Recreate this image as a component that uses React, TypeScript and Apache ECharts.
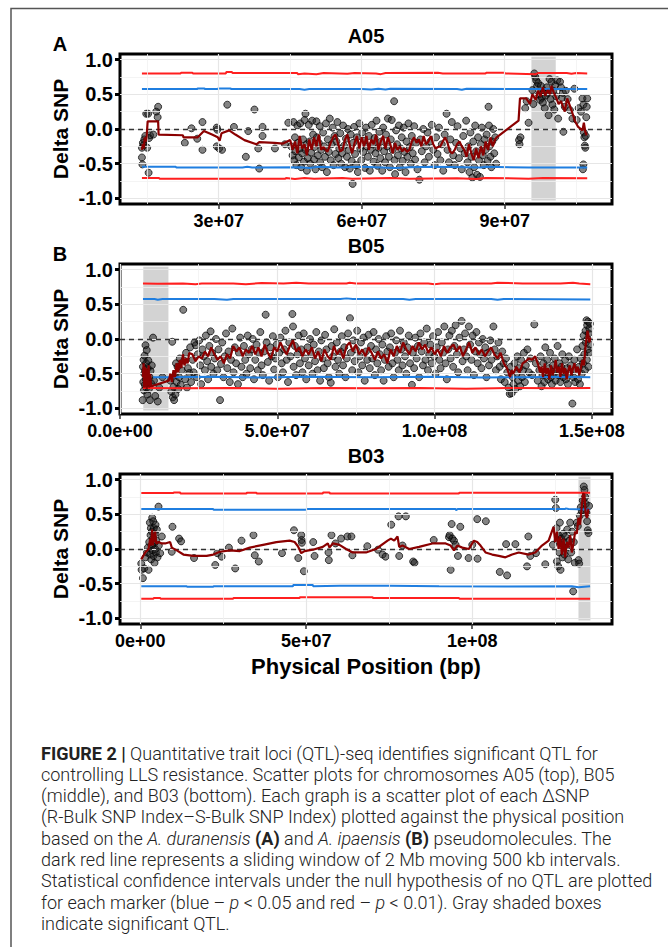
import React, { useEffect, useRef } from "react";
import * as echarts from "echarts";

// ---------- DATA (positions in Mb, values = delta SNP index) ----------
const A_POINTS: number[][] = [
  [13.9,-0.27],[13.9,-0.41],[14.0,-0.51],[14.1,-0.20],[14.3,-0.23],[14.4,-0.15],[14.6,-0.10],[14.8,0.22],[15.0,-0.27],[15.2,0.22],[15.3,-0.63],[15.4,-0.13],[15.6,-0.09],[16.3,-0.08],[16.9,0.25],[17.3,0.32],[17.2,0.17],
  [22.9,-0.20],[24.3,0.01],[25.5,-0.14],[26.6,0.10],[26.6,-0.30],[29.6,0.02],[29.7,-0.01],[29.6,-0.25],[30.1,-0.28],[30.7,-0.30],[31.8,0.35],[33.2,0.03],[35.7,-0.40],[36.2,-0.03],[37.5,0.28],[38.3,-0.28],[38.5,-0.57],[39.2,0.03],[39.2,-0.10],[41.8,-0.28],[43.9,-0.22],[44.6,0.09],[45.7,0.10],[48.2,0.22],
  [45.2,-0.25],[45.5,-0.38],[45.8,-0.45],[46.0,-0.12],[46.1,-0.32],[46.3,-0.52],[46.5,0.05],[46.6,-0.20],[46.8,-0.41],[47.0,-0.28],[47.1,0.08],[47.3,-0.55],[47.5,-0.35],[47.7,-0.15],[47.9,-0.47],
  [48.0,0.13],[48.2,-0.30],[48.4,-0.22],[48.5,-0.60],[48.7,-0.42],[48.9,0.06],[49.1,-0.18],[49.2,-0.50],[49.4,-0.34],[49.6,0.12],[49.8,-0.08],[50.0,-0.44],[50.1,-0.26],[50.3,-0.58],
  [50.5,0.11],[50.6,-0.12],[50.8,-0.38],[51.0,-0.20],[51.2,0.04],[51.3,-0.48],[51.5,-0.30],[51.7,-0.55],[51.9,-0.05],[52.1,-0.25],[52.3,-0.40],[52.5,0.08],[52.7,-0.62],[52.9,-0.15],
  [53.1,-0.33],[53.3,0.15],[53.5,-0.45],[53.7,-0.22],[53.9,0.02],[54.1,-0.52],[54.3,-0.10],[54.5,-0.36],[54.7,-0.18],[54.9,0.10],[55.1,-0.42],[55.3,-0.28],[55.5,-0.06],[55.7,-0.50],[55.9,-0.35],
  [56.1,0.05],[56.3,-0.24],[56.5,-0.55],[56.7,-0.14],[56.9,-0.40],[57.1,0.00],[57.3,-0.30],[57.5,-0.57],[57.7,-0.08],[57.9,-0.46],[58.1,-0.79],[58.2,-0.20],[58.4,0.03],[58.6,-0.36],[58.8,-0.52],[59.0,-0.12],[59.2,-0.62],
  [59.5,0.08],[59.7,-0.28],[59.9,-0.45],[60.1,-0.05],[60.3,-0.33],[60.5,-0.17],[60.7,-0.56],[60.9,0.02],[61.1,-0.25],[61.3,-0.40],[61.5,-0.10],[61.7,-0.60],[61.9,-0.30],
  [62.1,0.06],[62.3,-0.22],[62.5,-0.47],[62.7,-0.13],[62.9,-0.35],[63.1,0.12],[63.3,-0.53],[63.5,-0.27],[63.7,-0.04],[63.9,-0.42],[64.1,-0.18],[64.3,-0.60],[64.5,0.02],[64.7,-0.32],[64.9,-0.48],[65.1,-0.08],[65.3,-0.25],[65.5,0.15],[65.7,-0.40],[65.9,-0.55],
  [66.1,-0.15],[66.3,0.13],[66.5,-0.30],[66.8,0.40],[66.9,-0.45],[67.0,-0.65],[67.2,-0.02],[67.4,-0.22],[67.6,-0.38],[67.8,0.05],[68.0,-0.55],[68.2,-0.28],[68.4,-0.12],[68.6,-0.46],[68.8,0.02],[69.0,-0.33],[69.2,-0.62],[69.4,-0.18],[69.6,-0.40],[69.8,0.08],
  [70.1,-0.26],[70.3,-0.50],[70.5,-0.10],[70.7,-0.35],[71.0,0.04],[71.2,-0.44],[71.4,-0.20],[71.7,-0.58],[72.1,-0.73],[72.3,-0.15],[72.6,-0.32],[72.9,0.00],[73.2,-0.48],[73.5,-0.25],[73.8,-0.05],
  [74.1,-0.40],[74.4,-0.18],[74.7,0.06],[75.0,-0.30],[75.3,-0.52],[75.6,-0.12],[75.9,-0.36],[76.2,0.02],[76.5,-0.45],[76.8,-0.22],[77.1,-0.60],[77.4,-0.08],[77.8,0.22],[78.0,-0.30],[78.3,-0.48],
  [78.6,-0.15],[78.9,0.10],[79.2,-0.38],[79.5,-0.52],[79.8,-0.20],[80.1,0.04],[80.4,-0.42],[80.7,-0.28],[81.0,-0.58],[81.3,-0.10],[81.6,-0.35],[81.9,0.12],[82.2,-0.48],
  [82.4,-0.25],[82.6,-0.62],[82.8,-0.05],[83.0,-0.40],[83.2,-0.70],[83.4,-0.18],[83.6,-0.55],[83.8,0.05],[84.0,-0.32],[84.2,-0.66],[84.4,-0.12],[84.6,-0.45],[84.8,-0.69],[85.0,-0.22],[85.2,0.02],[85.4,-0.38],[85.6,-0.52],
  [85.8,-0.15],[86.0,-0.30],[86.2,-0.08],[86.4,-0.46],[86.6,0.32],[86.7,0.05],[86.8,-0.25],[87.0,-0.40],[87.2,-0.55],[87.4,-0.18],[87.6,0.00],[87.8,-0.35],[88.0,-0.12],[88.2,-0.50],
  [93.0,-0.16],[93.1,-0.22],[93.3,-0.12],[95.0,0.09],[94.3,0.30],[94.6,0.40],
  [95.8,0.56],[96.0,0.36],[96.2,0.80],[96.4,0.75],[96.6,0.70],[96.8,0.62],[97.0,0.66],[97.2,0.50],[97.4,0.42],[97.6,0.62],[97.8,0.45],[98.0,0.38],[98.2,0.55],[98.4,0.30],[98.6,0.48],[98.8,0.60],[99.0,0.52],[99.2,0.20],[99.4,0.72],[99.6,0.43],[99.8,0.68],[100.0,0.35],[100.2,0.55],[100.4,0.28],[100.6,0.63],[100.8,0.47],[101.0,0.70],[101.2,0.15],
  [101.6,0.68],[101.8,0.60],[102.0,0.45],[102.2,0.52],[102.3,-0.04],[102.6,0.32],[102.8,0.55],[103.2,0.43],[103.7,0.27],[104.2,0.15],[104.6,0.58],[105.1,0.13],[105.5,0.30],[106.0,0.25],[106.3,0.44],[106.5,0.35],[106.6,-0.05],[106.7,-0.12],[106.8,-0.24],[106.5,-0.51],[106.4,-0.58],[106.9,-0.27],[107.1,0.17],[107.2,0.32],[107.3,0.44],[107.0,-0.10]
];
const A_WINDOW: number[][] = [
  [13.9,-0.30],[14.1,-0.22],[14.3,-0.28],[14.5,-0.12],[14.7,-0.18],[14.9,-0.10],[15.1,0.11],[17.3,0.11],[17.4,-0.08],[22.5,-0.09],[22.6,-0.12],[25.6,-0.12],[26.9,-0.03],[28.6,-0.08],[29.8,-0.12],[30.2,-0.17],[30.6,-0.06],[32.2,-0.02],[33.5,-0.08],[35.4,-0.16],[37.9,-0.22],[38.5,-0.19],[41.7,-0.20],[43.5,-0.21],[45.0,-0.16],[45.5,-0.30],[46.0,-0.18],[46.5,-0.35],[47.0,-0.10],[47.5,-0.28],[48.0,-0.22],[48.5,-0.38],[49.0,-0.15],[49.5,-0.30],[50.0,-0.12],[50.5,-0.25],[51.0,-0.08],[51.5,-0.30],[52.0,-0.26],[52.8,-0.33],[53.5,-0.20],[54.0,-0.12],[54.5,-0.08],[55.0,-0.20],[55.5,-0.32],[56.0,-0.30],[56.5,-0.15],[57.0,-0.08],[57.5,-0.24],[58.0,-0.35],[58.5,-0.20],[59.0,-0.10],[59.5,-0.28],[60.0,-0.12],[60.5,-0.25],[61.0,-0.10],[61.5,-0.30],[62.0,-0.15],[62.5,-0.22],[63.0,-0.08],[63.5,-0.30],[64.0,-0.18],[64.5,-0.10],[65.0,-0.28],[65.5,-0.12],[66.0,-0.22],[66.5,-0.35],[67.0,-0.20],[67.5,-0.30],[68.0,-0.25],[68.5,-0.32],[69.0,-0.28],[69.5,-0.33],[70.0,-0.30],[70.5,-0.18],[71.0,-0.12],[71.5,-0.20],[72.0,-0.15],[72.5,-0.25],[73.0,-0.10],[73.5,-0.22],[74.0,-0.18],[74.5,-0.10],[75.0,-0.22],[75.5,-0.28],[76.0,-0.26],[76.5,-0.25],[77.0,-0.18],[77.5,-0.12],[78.0,-0.20],[78.5,-0.32],[79.0,-0.35],[79.5,-0.30],[80.0,-0.22],[80.5,-0.18],[81.0,-0.25],[81.5,-0.30],[82.0,-0.40],[82.5,-0.22],[83.0,-0.35],[83.5,-0.45],[84.0,-0.28],[84.5,-0.42],[85.0,-0.25],[85.5,-0.38],[86.0,-0.18],[86.5,-0.30],[87.0,-0.12],[87.5,-0.25],[88.0,-0.15],[88.3,-0.12],
  [92.9,0.12],[93.2,0.44],[94.5,0.44],[95.3,0.36],[95.8,0.50],[96.5,0.42],[97.0,0.55],[97.5,0.47],[98.0,0.60],[98.5,0.48],[99.0,0.56],[99.5,0.50],[99.8,0.62],[100.3,0.52],[100.8,0.45],[101.3,0.36],[101.8,0.40],[102.6,0.25],[103.1,0.44],[104.0,0.27],[104.7,0.12],[105.4,0.03],[106.3,-0.02],[106.6,0.09],[106.9,-0.04],[107.2,-0.09]
];
const A_RED_UP: number[][] = [[13.9,0.80],[22.0,0.80],[22.1,0.81],[24.5,0.81],[24.6,0.80],[31.5,0.80],[31.6,0.82],[32.8,0.82],[32.9,0.805],[46.5,0.805],[46.6,0.79],[48.0,0.80],[50.5,0.79],[52.0,0.805],[57.0,0.795],[58.5,0.805],[63.0,0.80],[64.0,0.79],[65.0,0.805],[76.0,0.81],[77.0,0.80],[86.0,0.80],[86.1,0.81],[90.0,0.81],[90.1,0.80],[96.5,0.79],[97.0,0.805],[103.0,0.805],[104.0,0.795],[105.0,0.805],[107.3,0.80]];
const A_BLUE_UP: number[][] = [[13.9,0.575],[25.5,0.575],[25.6,0.585],[27.0,0.585],[27.1,0.575],[29.8,0.575],[29.9,0.585],[32.5,0.585],[32.6,0.575],[47.0,0.575],[48.0,0.565],[49.0,0.575],[60.0,0.575],[62.0,0.57],[63.5,0.58],[65.0,0.57],[66.0,0.58],[80.0,0.575],[81.0,0.565],[82.0,0.58],[96.0,0.575],[107.3,0.575]];
const A_BLUE_LO: number[][] = [[13.9,-0.545],[21.0,-0.545],[21.1,-0.555],[35.0,-0.555],[36.0,-0.545],[37.0,-0.555],[47.0,-0.55],[49.0,-0.56],[51.0,-0.545],[55.0,-0.555],[60.0,-0.545],[67.0,-0.56],[70.0,-0.55],[75.0,-0.545],[85.0,-0.555],[86.0,-0.545],[95.0,-0.555],[107.3,-0.555]];
const A_RED_LO: number[][] = [[13.9,-0.705],[17.5,-0.705],[17.6,-0.715],[44.0,-0.715],[44.1,-0.705],[46.0,-0.72],[48.0,-0.705],[50.0,-0.715],[56.0,-0.705],[58.0,-0.715],[66.0,-0.705],[70.0,-0.715],[80.0,-0.71],[84.0,-0.72],[86.0,-0.705],[95.0,-0.715],[98.0,-0.705],[107.3,-0.71]];
const A_QTL: number[] = [95.6, 100.7];

const B_POINTS: number[][] = [
  [7.2,-0.88],[7.3,-0.40],[7.4,-0.62],[7.5,-0.30],[7.6,-0.74],[7.7,-0.50],[7.8,-0.24],[7.9,-0.66],[8.0,-0.45],[8.1,-0.09],[8.2,-0.58],[8.3,-0.35],[8.4,-0.70],[8.5,-0.16],[8.6,-0.52],[8.7,-0.80],[8.8,-0.42],[8.9,-0.62],[9.0,-0.31],[9.2,-0.72],[9.4,-0.55],[9.5,-0.88],[9.7,-0.46],[9.9,-0.64],[10.1,-0.38],[10.5,0.02],[10.8,-0.60],[11.2,-0.82],[12.0,-0.90],[12.5,-0.70],[13.5,-0.55],
  [16.0,-0.60],[16.3,-0.76],[16.6,-0.04],[16.8,-0.84],[17.0,-0.69],[17.2,-0.88],[17.4,-0.52],[17.6,-0.80],[17.8,-0.35],[18.0,-0.62],[18.3,-0.40],[18.5,-0.72],[18.8,-0.55],[19.0,-0.28],[19.3,-0.66],[19.6,-0.45],[20.1,0.42],[20.4,-0.31],[20.7,-0.58],[21.0,-0.20],[21.3,-0.70],[21.6,-0.42],[22.0,-0.49],
  [22.3,-0.12],[22.6,-0.62],[23.1,-0.30],[23.4,-0.48],[23.7,-0.05],[24.1,-0.09],[24.4,-0.55],[24.7,-0.22],[25.2,-0.02],[25.5,-0.38],[25.8,-0.65],[26.2,-0.15],[26.6,-0.25],[27.0,-0.45],[27.3,0.05],[27.7,-0.32],[28.0,-0.58],[28.4,-0.10],[28.8,0.11],[29.0,-0.40],[29.3,-0.20],[29.7,-0.50],
  [30.1,-0.28],[30.5,0.00],[30.9,-0.45],[31.3,-0.15],[31.8,-0.88],[32.1,-0.36],[32.5,-0.05],[32.9,-0.55],[33.3,-0.25],[33.7,0.08],[34.1,-0.42],[34.5,-0.18],[34.9,-0.62],[35.3,-0.30],[35.7,0.15],[36.1,-0.48],[36.5,-0.12],[36.9,-0.35],[37.5,-0.65],[37.8,-0.20],[38.2,0.02],[38.6,-0.40],[39.0,-0.55],[39.4,-0.10],[39.8,-0.30],
  [40.2,-0.50],[40.6,0.05],[41.0,-0.22],[41.4,-0.42],[41.8,-0.15],[42.2,0.00],[42.6,-0.58],[43.0,-0.30],[43.4,-0.08],[43.8,-0.45],[44.2,-0.20],[44.6,0.10],[45.0,-0.38],[45.4,-0.52],[45.8,-0.18],[46.3,0.35],[46.6,-0.05],[47.0,-0.33],[47.4,-0.60],[47.8,-0.12],[48.2,-0.25],[48.6,0.04],[49.0,-0.44],[49.4,-0.28],[49.8,-0.08],
  [50.2,-0.55],[50.6,-0.20],[51.0,0.02],[51.4,-0.35],[51.8,-0.48],[52.2,-0.15],[52.6,0.12],[53.0,-0.30],[53.4,-0.62],[53.8,-0.05],[54.2,-0.25],[54.8,0.36],[55.0,0.18],[55.2,-0.40],[55.6,-0.10],[56.0,-0.52],[56.4,-0.22],[56.8,0.05],[57.2,-0.35],[57.6,-0.15],[58.0,-0.48],[58.4,0.08],[58.8,-0.28],[59.2,-0.58],[59.6,-0.12],
  [60.0,-0.38],[60.4,0.00],[60.8,-0.22],[61.2,-0.50],[61.6,-0.08],[62.0,-0.32],[62.4,0.10],[62.8,-0.45],[63.2,-0.18],[63.6,-0.60],[64.0,-0.02],[64.4,-0.28],[64.8,-0.42],[65.2,0.06],[65.6,-0.15],[66.0,-0.35],[66.4,-0.55],[67.0,-0.63],[67.3,-0.10],[67.7,-0.25],[68.1,0.14],[68.5,-0.40],[68.9,-0.05],[69.3,-0.30],[69.7,-0.50],
  [70.1,-0.18],[70.5,0.04],[70.9,-0.38],[71.3,-0.12],[71.7,-0.55],[72.1,-0.28],[72.5,0.08],[73.1,0.30],[73.4,-0.20],[73.8,-0.45],[74.2,-0.02],[74.6,-0.32],[75.0,-0.15],[75.4,0.12],[75.8,-0.48],[76.2,-0.25],[76.6,-0.05],[77.0,-0.38],[77.4,0.02],[77.8,-0.60],[78.2,-0.18],[78.6,-0.30],[79.0,0.06],[79.4,-0.42],[79.8,-0.10],
  [80.2,-0.28],[80.6,0.10],[81.0,-0.52],[81.4,-0.15],[81.8,-0.35],[82.2,0.00],[82.6,-0.22],[83.0,-0.45],[83.4,-0.08],[83.8,-0.60],[84.2,-0.30],[84.6,0.04],[85.0,-0.18],[85.4,-0.40],[85.8,-0.12],[86.2,0.08],[86.6,-0.35],[87.0,-0.55],[87.4,-0.20],[87.8,-0.02],[88.2,-0.30],[88.6,-0.45],[89.0,0.12],[89.4,-0.15],[89.8,-0.38],
  [90.2,-0.05],[90.6,-0.25],[91.0,-0.50],[91.4,-0.12],[91.8,0.05],[92.2,-0.35],[92.8,-0.66],[93.1,-0.20],[93.5,-0.42],[93.9,0.02],[94.3,-0.28],[94.7,-0.10],[95.1,-0.55],[95.5,0.08],[95.9,-0.18],[96.3,-0.38],[96.7,-0.05],[97.1,-0.30],[97.5,0.15],[97.9,-0.45],[98.3,-0.22],[98.7,-0.08],[99.1,-0.35],[99.5,0.04],[99.9,-0.25],
  [100.3,-0.50],[100.7,-0.12],[101.1,0.10],[101.5,-0.30],[101.9,-0.42],[102.3,-0.05],[102.7,-0.20],[103.1,0.18],[103.5,-0.35],[103.9,-0.58],[104.3,-0.15],[104.7,0.05],[105.1,-0.28],[105.5,0.12],[105.9,-0.40],[106.3,-0.10],[106.7,0.20],[107.1,-0.22],[107.5,-0.48],[107.9,0.02],[108.6,0.26],[108.9,-0.32],[109.3,-0.15],[109.7,0.08],
  [110.1,-0.25],[110.5,-0.45],[110.9,0.18],[111.3,-0.08],[111.7,-0.30],[112.1,0.05],[112.5,-0.52],[112.9,-0.18],[113.3,0.10],[113.7,-0.35],[114.1,-0.05],[114.5,-0.22],[114.9,-0.42],[115.3,0.00],[115.7,-0.28],[116.1,-0.12],[116.5,-0.55],[116.9,-0.20],[117.3,-0.38],[117.7,-0.02],[118.1,-0.30],[118.7,0.18],[119.1,-0.15],[119.5,-0.45],
  [119.9,-0.25],[120.3,-0.05],[120.7,-0.40],[121.1,-0.58],[121.5,-0.18],[121.9,-0.35],[122.3,-0.62],[122.7,-0.28],[123.1,-0.48],[123.5,-0.70],[123.9,-0.79],[124.5,-0.78],[124.2,-0.40],[124.8,-0.55],
  [125.1,-0.65],[125.4,-0.35],[125.7,-0.72],[126.0,-0.50],[126.3,-0.25],[126.6,-0.60],[126.9,-0.42],[127.2,-0.68],[127.5,-0.30],[127.8,-0.55],[128.1,-0.45],[128.4,-0.20],[128.7,-0.62],[129.0,-0.38],[129.5,-0.15],[130.0,-0.48],[130.5,-0.28],[131.0,-0.52],[131.7,0.21],[132.2,-0.35],[132.8,-0.60],
  [133.3,-0.45],[133.7,-0.25],[134.0,-0.68],[134.3,-0.52],[134.6,-0.35],[134.9,-0.62],[135.2,-0.12],[135.5,-0.48],[135.8,-0.30],[136.1,-0.58],[136.4,-0.42],[136.7,-0.20],[137.0,-0.55],[137.3,-0.65],[137.6,-0.38],[137.9,-0.50],[138.2,-0.28],[138.5,-0.60],[138.8,-0.45],[139.1,-0.10],[139.4,-0.52],[139.7,-0.35],[140.0,-0.62],[140.3,-0.40],[140.6,-0.22],[140.9,-0.55],[141.2,-0.48],[141.5,-0.30],[141.8,-0.58],[142.1,-0.42],[142.4,-0.65],[142.7,-0.25],[143.0,-0.50],[143.3,-0.38],[143.8,-0.93],[144.1,-0.55],[144.4,-0.30],[144.7,-0.62],[145.0,-0.45],[145.3,-0.15],[145.6,-0.58],[145.9,-0.40],[146.2,-0.65],[146.5,-0.28],
  [146.8,-0.50],[147.0,-0.10],[147.2,-0.35],[147.4,0.05],[147.6,-0.22],[147.8,-0.45],[148.0,0.12],[148.1,-0.05],[148.3,0.27],[148.4,-0.30],[148.5,0.20],[148.6,0.00],[148.7,-0.15],[148.8,0.25],[148.9,-0.40],[149.0,0.08],[149.1,-0.20],[149.2,0.15],[149.3,-0.08],[149.4,0.22]
];
const B_WINDOW: number[][] = [
  [7.3,-0.55],[7.5,-0.35],[7.7,-0.70],[7.9,-0.40],[8.1,-0.68],[8.3,-0.42],[8.5,-0.72],[8.7,-0.45],[8.9,-0.66],[9.1,-0.38],[9.3,-0.70],[9.6,-0.50],[9.8,-0.65],[10.0,-0.68],[15.5,-0.60],[16.0,-0.50],[16.5,-0.62],[17.0,-0.45],[17.5,-0.55],[18.0,-0.35],[18.5,-0.48],[19.0,-0.30],[19.5,-0.42],[20.0,-0.22],[20.5,-0.38],[21.0,-0.28],[21.5,-0.35],[22.0,-0.20],[23.0,-0.22],[24.0,-0.32],[25.0,-0.25],[26.0,-0.28],[27.0,-0.18],[28.0,-0.25],[29.0,-0.12],[30.0,-0.22],[31.0,-0.30],[32.0,-0.25],[33.0,-0.35],[34.0,-0.22],[35.0,-0.28],[36.0,-0.10],[37.0,-0.18],[38.0,-0.12],[39.0,-0.25],[40.0,-0.15],[41.0,-0.20],[42.0,-0.10],[43.0,-0.22],[44.0,-0.12],[45.0,-0.25],[46.0,-0.08],[47.0,-0.20],[48.0,-0.28],[49.0,-0.12],[50.0,-0.18],[51.0,-0.05],[52.0,-0.15],[53.0,-0.22],[54.0,-0.10],[55.0,-0.02],[56.0,-0.18],[57.0,-0.12],[58.0,-0.25],[59.0,-0.15],[60.0,-0.22],[61.0,-0.12],[62.0,-0.28],[63.0,-0.18],[64.0,-0.32],[65.0,-0.15],[66.0,-0.25],[67.0,-0.30],[68.0,-0.10],[69.0,-0.22],[70.0,-0.15],[71.0,-0.28],[72.0,-0.10],[73.0,-0.05],[74.0,-0.18],[75.0,-0.08],[76.0,-0.22],[77.0,-0.15],[78.0,-0.25],[79.0,-0.12],[80.0,-0.20],[81.0,-0.30],[82.0,-0.18],[83.0,-0.28],[84.0,-0.22],[85.0,-0.35],[86.0,-0.15],[87.0,-0.25],[88.0,-0.10],[89.0,-0.20],[90.0,-0.05],[91.0,-0.15],[92.0,-0.22],[93.0,-0.10],[94.0,-0.18],[95.0,-0.05],[96.0,-0.15],[97.0,-0.08],[98.0,-0.20],[99.0,-0.12],[100.0,-0.22],[101.0,-0.15],[102.0,-0.25],[103.0,-0.10],[104.0,-0.20],[105.0,-0.12],[106.0,-0.08],[107.0,-0.18],[108.0,-0.10],[109.0,-0.25],[110.0,-0.15],[111.0,-0.05],[112.0,-0.20],[113.0,-0.12],[114.0,-0.22],[115.0,-0.15],[116.0,-0.25],[117.0,-0.18],[118.0,-0.12],[119.0,-0.22],[120.0,-0.28],[121.0,-0.20],[122.0,-0.35],[123.0,-0.42],[124.0,-0.55],[124.5,-0.45],[125.0,-0.50],[126.0,-0.40],[127.0,-0.48],[128.0,-0.35],[129.0,-0.32],[130.0,-0.28],[131.0,-0.30],[132.0,-0.25],[133.0,-0.38],[133.5,-0.48],[134.0,-0.40],[134.5,-0.55],[135.0,-0.35],[135.5,-0.50],[136.0,-0.42],[136.5,-0.58],[137.0,-0.38],[137.5,-0.52],[138.0,-0.45],[138.5,-0.30],[139.0,-0.48],[139.5,-0.40],[140.0,-0.55],[140.5,-0.35],[141.0,-0.50],[141.5,-0.42],[142.0,-0.58],[142.5,-0.45],[143.0,-0.38],[143.5,-0.52],[144.0,-0.42],[144.5,-0.35],[145.0,-0.48],[145.5,-0.40],[146.0,-0.52],[146.5,-0.42],[147.0,-0.30],[147.5,-0.38],[148.0,-0.10],[148.3,0.00],[148.6,0.12],[148.9,0.05],[149.2,-0.05],[149.5,0.02]
];
const B_RED_UP: number[][] = [[7.3,0.80],[12.0,0.795],[20.0,0.80],[24.0,0.79],[26.0,0.80],[36.0,0.80],[40.0,0.79],[45.0,0.805],[52.0,0.80],[56.0,0.81],[60.0,0.80],[72.0,0.80],[73.0,0.81],[75.0,0.80],[98.0,0.80],[100.0,0.79],[102.0,0.80],[118.0,0.80],[120.0,0.81],[128.0,0.80],[140.0,0.80],[144.0,0.81],[146.0,0.80],[149.5,0.79]];
const B_BLUE_UP: number[][] = [[7.3,0.575],[11.0,0.575],[12.0,0.565],[13.5,0.575],[30.0,0.575],[34.0,0.565],[36.0,0.575],[70.0,0.575],[72.0,0.585],[74.0,0.575],[90.0,0.575],[92.0,0.565],[94.0,0.575],[118.0,0.575],[120.0,0.565],[122.0,0.575],[149.5,0.57]];
const B_BLUE_LO: number[][] = [[10.5,-0.55],[15.0,-0.55],[30.0,-0.545],[45.0,-0.555],[60.0,-0.545],[80.0,-0.55],[100.0,-0.545],[115.0,-0.555],[130.0,-0.55],[140.0,-0.545],[149.5,-0.55]];
const B_RED_LO: number[][] = [[7.3,-0.705],[20.0,-0.71],[35.0,-0.705],[50.0,-0.715],[65.0,-0.705],[80.0,-0.71],[95.0,-0.705],[110.0,-0.715],[125.0,-0.705],[140.0,-0.71],[149.5,-0.705]];
const B_QTL: number[] = [7.4, 15.4];

const C_POINTS: number[][] = [
  [0.3,-0.21],[0.4,-0.30],[0.8,-0.42],[1.2,-0.28],[1.6,-0.12],[2.0,-0.05],[2.3,0.02],[2.5,-0.30],[2.7,0.10],[2.9,0.38],[3.0,-0.08],[3.1,0.20],[3.2,0.30],[3.3,-0.15],[3.4,0.05],[3.5,0.25],[3.6,0.45],[3.7,-0.02],[3.8,0.15],[3.9,0.40],[4.0,-0.10],[4.1,0.30],[4.2,0.08],[4.3,-0.20],[4.4,0.22],[4.5,0.00],[4.6,0.35],[4.7,-0.05],[4.8,0.12],[5.0,0.28],[5.2,-0.12],[5.5,0.61],[5.6,0.05],[6.0,-0.06],[6.5,0.18],
  [9.5,-0.04],[9.7,0.32],[11.7,0.15],[12.3,0.11],[16.2,-0.13],[22.6,-0.23],[23.2,-0.06],[24.5,-0.11],[26.7,0.02],[28.6,-0.28],[30.5,0.12],[34.1,0.20],[34.5,-0.09],[35.7,-0.18],[42.7,-0.06],[46.3,0.27],[47.6,-0.13],[48.5,0.20],[48.6,0.13],[48.7,0.09],[49.3,-0.32],[52.1,0.10],[52.5,-0.10],[56.7,-0.05],[56.8,-0.16],[57.6,0.20],[58.8,0.08],[60.5,0.15],[62.4,0.18],[63.6,0.18],[63.9,-0.09],[68.4,0.04],[71.6,-0.01],[73.0,-0.08],[73.9,-0.11],[75.6,0.35],[77.8,0.47],[78.0,-0.10],[79.0,0.05],[80.0,0.47],[82.2,-0.18],[82.6,-0.20],[88.4,0.13],[93.0,0.17],[93.2,0.20],[93.5,-0.30],[93.8,0.36],[94.0,0.15],[94.5,0.12],[95.0,0.06],[95.7,-0.10],[96.4,0.32],[98.9,-0.13],[100.0,0.06],[101.5,0.43],[101.6,-0.14],[104.1,0.40],[108.3,-0.33],[110.2,0.07],[110.5,-0.38],[113.0,0.07],[116.5,-0.25],[116.9,0.18],[117.5,-0.10],[119.2,-0.06],[122.0,-0.22],[124.3,0.06],
  [125.0,0.71],[125.2,0.59],[125.4,0.30],[125.5,-0.18],[125.7,0.12],[125.9,-0.25],[126.0,0.20],[126.2,-0.05],[126.4,0.38],[126.6,-0.30],[126.8,0.15],[127.0,0.05],[127.2,-0.12],[127.4,0.22],[127.6,0.10],[127.8,-0.08],[128.0,0.18],[128.3,0.02],[128.6,0.28],[128.9,-0.15],[129.2,0.12],[129.5,0.38],[129.8,-0.05],[130.1,0.25],[130.4,-0.61],[130.6,0.10],[130.9,-0.20],
  [131.5,0.38],[131.8,0.33],[132.0,-0.16],[132.2,-0.21],[132.4,0.48],[132.7,0.60],[133.0,0.55],[133.3,0.70],[133.6,0.90],[133.8,0.85],[134.0,0.75],[134.2,0.65],[134.4,0.52],[134.6,0.40],[134.8,0.27],[135.0,0.23],[135.2,0.62]
];
const C_WINDOW: number[][] = [
  [0.3,-0.15],[1.5,-0.05],[2.5,0.00],[3.0,0.15],[3.3,0.05],[3.6,0.28],[3.8,0.05],[4.0,0.22],[4.2,0.10],[4.5,0.25],[4.8,0.08],[5.5,0.10],[6.5,0.08],[7.5,0.08],[9.0,0.10],[9.5,0.02],[11.0,-0.02],[13.0,-0.08],[16.0,-0.10],[20.0,-0.10],[22.0,-0.08],[24.0,-0.04],[27.0,-0.02],[30.0,-0.03],[33.0,0.02],[37.0,0.06],[41.0,0.10],[45.0,0.12],[46.5,0.10],[47.5,0.04],[48.5,-0.06],[49.5,-0.03],[52.0,-0.01],[55.0,0.03],[56.5,0.08],[57.0,0.02],[58.0,0.08],[60.0,0.06],[62.0,0.00],[64.0,-0.05],[68.0,-0.05],[71.0,0.00],[74.5,0.12],[75.5,0.15],[76.5,0.12],[77.5,0.18],[78.0,0.03],[79.0,0.05],[81.0,0.00],[84.0,0.03],[88.0,0.08],[92.0,0.08],[93.5,0.05],[94.5,-0.02],[95.5,0.05],[97.0,0.02],[99.0,0.00],[100.5,0.12],[101.5,0.10],[102.5,0.05],[104.0,-0.05],[106.0,-0.08],[108.0,-0.10],[110.0,-0.12],[112.0,-0.08],[114.0,-0.05],[117.0,-0.08],[119.0,-0.05],[121.0,0.05],[123.0,0.12],[124.5,0.32],[125.0,0.10],[125.5,0.25],[126.0,0.00],[126.5,0.18],[127.0,-0.08],[127.5,0.15],[128.0,-0.12],[128.5,0.10],[129.0,0.02],[129.5,0.20],[130.0,-0.05],[130.5,0.08],[131.0,0.25],[131.5,0.22],[132.0,0.45],[132.5,0.35],[133.0,0.62],[133.4,0.80],[133.8,0.78],[134.2,0.50],[134.6,0.45],[135.0,0.58]
];
const C_RED_UP: number[][] = [[0.3,0.805],[10.0,0.805],[10.1,0.815],[12.0,0.815],[12.1,0.80],[32.0,0.80],[32.1,0.81],[35.0,0.81],[35.1,0.80],[55.0,0.80],[55.1,0.815],[57.0,0.815],[57.1,0.80],[96.0,0.80],[96.1,0.81],[135.5,0.81]];
const C_BLUE_UP: number[][] = [[0.3,0.575],[22.0,0.575],[22.1,0.565],[50.0,0.565],[50.1,0.575],[95.0,0.575],[95.1,0.56],[95.6,0.575],[128.0,0.575],[128.1,0.585],[129.0,0.575],[135.5,0.57]];
const C_BLUE_LO: number[][] = [[0.3,-0.535],[14.0,-0.535],[14.1,-0.545],[22.0,-0.545],[22.1,-0.535],[46.0,-0.535],[46.1,-0.52],[52.0,-0.52],[52.1,-0.535],[60.0,-0.53],[75.0,-0.53],[90.0,-0.535],[110.0,-0.54],[130.0,-0.535],[132.0,-0.55],[135.5,-0.535]];
const C_RED_LO: number[][] = [[0.3,-0.715],[4.0,-0.715],[4.1,-0.705],[6.0,-0.705],[6.1,-0.715],[28.0,-0.715],[28.1,-0.705],[48.0,-0.705],[48.1,-0.695],[70.0,-0.695],[70.1,-0.705],[96.0,-0.705],[96.1,-0.715],[135.5,-0.715]];
const C_QTL: number[] = [132.0, 135.6];

// ticks
const A_TICKS: number[] = [3e7, 6e7, 9e7];
const A_TICK_LABELS: string[] = ["3e+07", "6e+07", "9e+07"];
const A_MINOR: number[] = [1.5e7, 4.5e7, 7.5e7, 10.5e7];
const B_TICKS: number[] = [0, 5e7, 1e8, 1.5e8];
const B_TICK_LABELS: string[] = ["0.0e+00", "5.0e+07", "1.0e+08", "1.5e+08"];
const B_MINOR: number[] = [2.5e7, 7.5e7, 1.25e8];
const C_TICKS: number[] = [0, 5e7, 1e8];
const C_TICK_LABELS: string[] = ["0e+00", "5e+07", "1e+08"];
const C_MINOR: number[] = [2.5e7, 7.5e7, 1.25e8];
const Y_TICKS: number[] = [-1, -0.5, 0, 0.5, 1];
const Y_MINOR: number[] = [-0.75, -0.25, 0.25, 0.75];

const CAPTION: string[] = [
  "{b|FIGURE 2 |} Quantitative trait loci (QTL)-seq identifies significant QTL for",
  "controlling LLS resistance. Scatter plots for chromosomes A05 (top), B05",
  "(middle), and B03 (bottom). Each graph is a scatter plot of each ΔSNP",
  "(R-Bulk SNP Index–S-Bulk SNP Index) plotted against the physical position",
  "based on the {i|A. duranensis} {b|(A)} and {i|A. ipaensis} {b|(B)} pseudomolecules. The",
  "dark red line represents a sliding window of 2 Mb moving 500 kb intervals.",
  "Statistical confidence intervals under the null hypothesis of no QTL are plotted",
  "for each marker (blue – {i|p} < 0.05 and red – {i|p} < 0.01). Gray shaded boxes",
  "indicate significant QTL.",
];

// ---------- LAYOUT ----------
const GRID_LEFT = 120;
const GRID_W = 492;
const GRID_H = 150;
const GRID_TOPS = [54, 264, 474];
const Y_MIN = -1.08;
const Y_MAX = 1.08;
const AX_FONT = "'Liberation Sans', Arial, Helvetica, sans-serif";
const CAP_FONT = "Roboto, 'Liberation Sans', Arial, sans-serif";

const PANELS = [
  { title: "A05", tag: "A", xMin: 9.3e6, xMax: 112.5e6, ticks: A_TICKS, labels: A_TICK_LABELS, minor: A_MINOR,
    points: A_POINTS, win: A_WINDOW, thr: [A_RED_UP, A_BLUE_UP, A_BLUE_LO, A_RED_LO], qtl: A_QTL },
  { title: "B05", tag: "B", xMin: 0, xMax: 156.4e6, ticks: B_TICKS, labels: B_TICK_LABELS, minor: B_MINOR,
    points: B_POINTS, win: B_WINDOW, thr: [B_RED_UP, B_BLUE_UP, B_BLUE_LO, B_RED_LO], qtl: B_QTL },
  { title: "B03", tag: "", xMin: -6.1e6, xMax: 142.1e6, ticks: C_TICKS, labels: C_TICK_LABELS, minor: C_MINOR,
    points: C_POINTS, win: C_WINDOW, thr: [C_RED_UP, C_BLUE_UP, C_BLUE_LO, C_RED_LO], qtl: C_QTL },
];

const toBp = (arr: number[][]) => arr.map(([x, y]) => [x * 1e6, y]);
const THR_COLORS = ["#ff1f1f", "#1f7ee0", "#1f7ee0", "#ff1f1f"];

function buildOption() {
  const grid: any[] = [];
  const xAxis: any[] = [];
  const yAxis: any[] = [];
  const series: any[] = [];
  const graphic: any[] = [];

  PANELS.forEach((p, i) => {
    const top = GRID_TOPS[i];
    grid.push({ left: GRID_LEFT, top, width: GRID_W, height: GRID_H, show: true,
      backgroundColor: "#ffffff", borderColor: "#000", borderWidth: 3 });
    xAxis.push({
      type: "value", gridIndex: i, min: p.xMin, max: p.xMax, position: "bottom",
      axisLine: { show: false, onZero: false }, splitLine: { show: false },
      axisTick: { show: true, customValues: p.ticks, length: 5, lineStyle: { color: "#333", width: 1.5 } },
      axisLabel: { show: true, customValues: p.ticks, margin: 8, fontSize: 18, fontWeight: "bold",
        color: "#000", fontFamily: AX_FONT,
        formatter: (v: number) => { const k = p.ticks.indexOf(v); return k >= 0 ? p.labels[k] : ""; } },
    });
    yAxis.push({
      type: "value", gridIndex: i, min: Y_MIN, max: Y_MAX, position: "left",
      axisLine: { show: false, onZero: false }, splitLine: { show: false },
      axisTick: { show: true, customValues: Y_TICKS, length: 5, lineStyle: { color: "#000", width: 3 } },
      axisLabel: { show: true, customValues: Y_TICKS, margin: 7, fontSize: 20, fontWeight: "bold",
        color: "#000", fontFamily: AX_FONT, formatter: (v: number) => v.toFixed(1) },
    });

    const majorStyle = { color: "#e6e6e6", width: 1.2, type: "solid" };
    const minorStyle = { color: "#f1f1f1", width: 0.8, type: "solid" };
    const gridLines: any[] = [];
    Y_TICKS.forEach((v) => gridLines.push({ yAxis: v, lineStyle: majorStyle }));
    Y_MINOR.forEach((v) => gridLines.push({ yAxis: v, lineStyle: minorStyle }));
    p.ticks.forEach((v) => gridLines.push({ xAxis: v, lineStyle: majorStyle }));
    p.minor.forEach((v) => gridLines.push({ xAxis: v, lineStyle: minorStyle }));

    series.push({
      type: "line", xAxisIndex: i, yAxisIndex: i, data: [[p.xMin, 0]], symbol: "none",
      lineStyle: { opacity: 0 }, silent: true, z: 0,
      markLine: { silent: true, symbol: ["none", "none"], label: { show: false }, data: gridLines },
    });
    series.push({
      type: "line", xAxisIndex: i, yAxisIndex: i, data: [[p.xMin, 0]], symbol: "none",
      lineStyle: { opacity: 0 }, silent: true, z: 1,
      markArea: { silent: true, itemStyle: { color: "rgba(150,150,150,0.42)" },
        data: [[{ coord: [p.qtl[0] * 1e6, -1.03] }, { coord: [p.qtl[1] * 1e6, 1.04] }]] },
    });
    series.push({
      type: "line", xAxisIndex: i, yAxisIndex: i, data: [[p.xMin, 0]], symbol: "none",
      lineStyle: { opacity: 0 }, silent: true, z: 2,
      markLine: { silent: true, symbol: ["none", "none"], label: { show: false },
        data: [{ yAxis: 0, lineStyle: { color: "#333", width: 1.3, type: [5, 4] } }] },
    });
    series.push({
      type: "scatter", xAxisIndex: i, yAxisIndex: i, data: toBp(p.points), symbolSize: 7, z: 3,
      itemStyle: { color: "rgba(30,30,30,0.68)", borderColor: "#000", borderWidth: 0.9 },
    });
    p.thr.forEach((t, k) => {
      series.push({
        type: "line", xAxisIndex: i, yAxisIndex: i, data: toBp(t), symbol: "none", z: 4,
        lineStyle: { color: THR_COLORS[k], width: 2 },
      });
    });
    series.push({
      type: "line", xAxisIndex: i, yAxisIndex: i, data: toBp(p.win), symbol: "none", z: 5,
      lineStyle: { color: "#8b0000", width: 2.2 },
    });

    graphic.push({ type: "text", x: GRID_LEFT + GRID_W / 2, y: top - 18, z: 10,
      style: { text: p.title, fill: "#000", font: `bold 20px ${AX_FONT}`,
        textAlign: "center", textVerticalAlign: "middle", align: "center", verticalAlign: "middle" } });
    if (p.tag) {
      graphic.push({ type: "text", x: 60, y: top - 10, z: 10,
        style: { text: p.tag, fill: "#000", font: `bold 20px ${AX_FONT}`,
          textAlign: "center", textVerticalAlign: "middle", align: "center", verticalAlign: "middle" } });
    }
    graphic.push({ type: "text", x: 60, y: top + GRID_H / 2, rotation: Math.PI / 2, z: 10,
      style: { text: "Delta SNP", fill: "#000", font: `bold 21px ${AX_FONT}`,
        textAlign: "center", textVerticalAlign: "middle", align: "center", verticalAlign: "middle" } });
  });

  graphic.push({ type: "text", x: GRID_LEFT + GRID_W / 2, y: 666, z: 10,
    style: { text: "Physical Position (bp)", fill: "#000", font: `bold 22px ${AX_FONT}`,
      textAlign: "center", textVerticalAlign: "middle", align: "center", verticalAlign: "middle" } });

  graphic.push({ type: "polyline", z: 10, silent: true,
    shape: { points: [[11, 947], [11, 8.5], [668, 8.5]] },
    style: { stroke: "#555", lineWidth: 1.5, fill: null } });

  const capSize = 18;
  const rich = {
    b: { fontFamily: CAP_FONT, fontSize: capSize, fontWeight: "bold", fill: "#222" },
    i: { fontFamily: CAP_FONT, fontSize: capSize, fontWeight: 300, fontStyle: "italic", fill: "#222" },
  };
  CAPTION.forEach((line, k) => {
    graphic.push({ type: "text", x: 41, y: 753 + k * 21.3, z: 10,
      style: { text: line, rich, fill: "#222", fontFamily: CAP_FONT, fontSize: capSize, fontWeight: 300,
        textAlign: "left", textVerticalAlign: "middle", align: "left", verticalAlign: "middle" } });
  });

  return { animation: false, backgroundColor: "#ffffff", grid, xAxis, yAxis, series, graphic };
}

export default function App() {
  const ref = useRef<HTMLDivElement>(null);
  useEffect(() => {
    if (!ref.current) return;
    const chart = echarts.init(ref.current, undefined, { renderer: "svg" });
    chart.setOption(buildOption() as any);
    return () => chart.dispose();
  }, []);
  return (
    <div ref={ref}
      style={{ position: "fixed", left: 0, top: 0, width: 668, height: 947, background: "#fff" }} />
  );
}
